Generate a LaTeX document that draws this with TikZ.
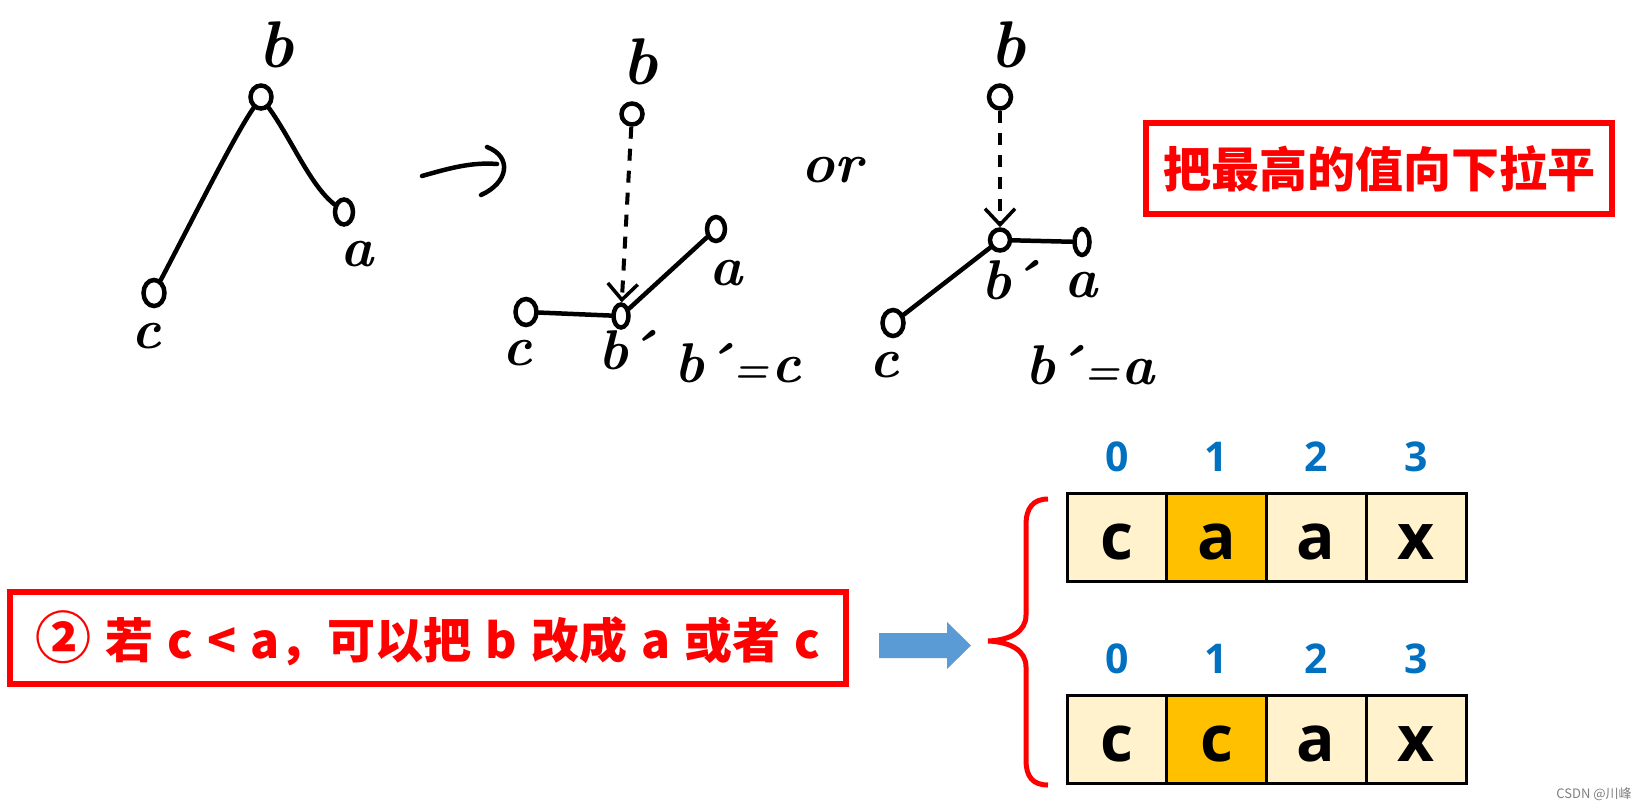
\documentclass[tikz,border=0pt]{standalone}
\usepackage{fontspec}
\newfontfamily\cjk{Noto Sans CJK SC}
\newfontfamily\osans{Open Sans}
\usetikzlibrary{shapes.geometric,arrows.meta}
\definecolor{idxblue}{HTML}{0070C0}
\definecolor{arrowblue}{HTML}{5B9BD5}
\definecolor{cellbg}{HTML}{FFF2CC}
\definecolor{cellhi}{HTML}{FFC000}
\definecolor{boxred}{HTML}{FF0000}
\newcommand\mygap{\hspace{14pt}}
\newcommand\bprime{b\kern-5pt´}
\newcommand\smeq{\kern1pt{\fontsize{40}{40}\selectfont=}\kern2pt}
\tikzset{
  hnode/.style={ellipse, draw=black, line width=4.5pt, inner sep=0pt},
  hw/.style={font=\fontsize{56}{56}\selectfont\bfseries\itshape, inner sep=0pt},
  hwb/.style={font=\fontsize{66}{66}\selectfont\bfseries\itshape, inner sep=0pt},
  hline/.style={line width=4.5pt, line cap=round},
  hdash/.style={line width=4pt, dash pattern=on 12pt off 10pt,
    -{Straight Barb[length=16pt,width=30pt,line width=3.5pt]}},
  redbox/.style={draw=boxred, line width=5.5pt, inner sep=0pt, text=boxred,
    font=\cjk\bfseries\fontsize{48}{48}\selectfont},
  cell/.style={draw=black, line width=3pt, fill=cellbg, minimum width=100pt,
    minimum height=88pt, inner sep=0pt, text height=44pt, text depth=0pt,
    font=\osans\bfseries\fontsize{64}{64}\selectfont},
  idx/.style={text=idxblue, inner sep=0pt, font=\osans\bfseries\fontsize{41}{41}\selectfont}
}
\begin{document}
\begin{tikzpicture}[x=1pt,y=-1pt]
\fill[white] (0,0) rectangle (1643,809);
\useasboundingbox (0,0) rectangle (1643,809);

% ---- tree 1
\node[hnode, minimum width=21pt, minimum height=23pt] (t1b) at (261,97) {};
\node[hnode, minimum width=18pt, minimum height=25pt] (t1a) at (344,212) {};
\node[hnode, minimum width=21pt, minimum height=26pt] (t1c) at (154,293) {};
\node[hwb] (t1bl) at (276,45) {b};
\node[hw] (t1al) at (357,254) {a};
\node[hw] (t1cl) at (146,336) {c};
\draw[hline] (t1b) .. controls (235,135) and (200,205) .. (t1c);
\draw[hline] (t1b) .. controls (292,140) and (310,185) .. (t1a);

% ---- hand-drawn arrow
\coordinate (h1) at (422,176);
\coordinate (h2) at (497,164);
\coordinate (h3) at (487,147);
\coordinate (h4) at (481,195);
\draw[hline] (h1) .. controls (450,168) and (472,162) .. (h2);
\draw[hline] (h3) .. controls (513,157) and (508,183) .. (h4);

% ---- tree 2
\node[hnode, minimum width=21pt, minimum height=21pt] (t2b) at (632,114) {};
\node[hnode, minimum width=15pt, minimum height=23pt] (t2bp) at (621,316) {};
\node[hnode, minimum width=21pt, minimum height=26pt] (t2c) at (526,312) {};
\node[hnode, minimum width=18pt, minimum height=24pt] (t2a) at (716,229) {};
\node[hwb] (t2bl) at (640,62) {b};
\node[hw] (t2al) at (726,273) {a};
\node[hw] (t2cl) at (517,353) {c};
\node[hw] (t2bpl) at (627,350) {\bprime};
\node[hw] (t2eq) at (738,363) {\bprime\smeq c};
\draw[hdash] (t2b) -- (t2bp);
\draw[hline] (t2c) -- (t2bp);
\draw[hline] (t2bp) -- (t2a);

% ---- or
\node[hw] (orl) at (832,170) {or};

% ---- tree 3
\node[hnode, minimum width=22pt, minimum height=23pt] (t3b) at (1000,97) {};
\node[hnode, minimum width=20pt, minimum height=21pt] (t3bp) at (1000,240) {};
\node[hnode, minimum width=15pt, minimum height=26pt] (t3a) at (1082,242) {};
\node[hnode, minimum width=21pt, minimum height=26pt] (t3c) at (893,323) {};
\node[hwb] (t3bl) at (1008,45) {b};
\node[hw] (t3al) at (1081,285) {a};
\node[hw] (t3cl) at (884,365) {c};
\node[hw] (t3bpl) at (1010,280) {\bprime};
\node[hw] (t3eq) at (1090,365) {\bprime\smeq a};
\draw[hdash] (t3b) -- (t3bp);
\draw[hline] (t3bp) -- (t3a);
\draw[hline] (t3bp) -- (t3c);

% ---- red boxes
\node[redbox, minimum width=466pt, minimum height=91pt] (title) at (1379,168.5) {把最高的值向下拉平};
\node[redbox, minimum width=836pt, minimum height=92pt] (cond) at (428,638)
  {{\fontsize{56}{56}\selectfont ②}\mygap 若\mygap c\mygap <\mygap a，可以把\mygap b\mygap 改成\mygap a\mygap 或者\mygap c};

% ---- blue arrow
\fill[arrowblue] (879,633) -- (947,633) -- (947,622) -- (971,645.5) -- (947,669) -- (947,658) -- (879,658) -- cycle;

% ---- brace
\draw[boxred, line width=5pt] (1048,499) .. controls (1033,499) and (1026,508) .. (1026,525)
  -- (1026,615) .. controls (1026,632) and (1010,640) .. (988,641)
  .. controls (1010,642) and (1026,650) .. (1026,667)
  -- (1026,760) .. controls (1026,777) and (1033,785) .. (1048,785);

% ---- arrays
\node[idx] (i10) at (1117,457) {0};
\node[idx] (i11) at (1216,457) {1};
\node[idx] (i12) at (1316,457) {2};
\node[idx] (i13) at (1416,457) {3};
\node[cell] (a10) at (1117,537.5) {c};
\node[cell, fill=cellhi] (a11) at (1216.5,537.5) {a};
\node[cell] (a12) at (1316,537.5) {a};
\node[cell] (a13) at (1416,537.5) {x};

\node[idx] (i20) at (1117,659) {0};
\node[idx] (i21) at (1216,659) {1};
\node[idx] (i22) at (1316,659) {2};
\node[idx] (i23) at (1416,659) {3};
\node[cell] (a20) at (1117,739) {c};
\node[cell, fill=cellhi] (a21) at (1216.5,739) {c};
\node[cell] (a22) at (1316,739) {a};
\node[cell] (a23) at (1416,739) {x};

% ---- watermark
\node[font=\cjk\fontsize{13}{13}\selectfont, text=gray, inner sep=0pt] (wm) at (1594,794) {CSDN @川峰};
\end{tikzpicture}
\end{document}
